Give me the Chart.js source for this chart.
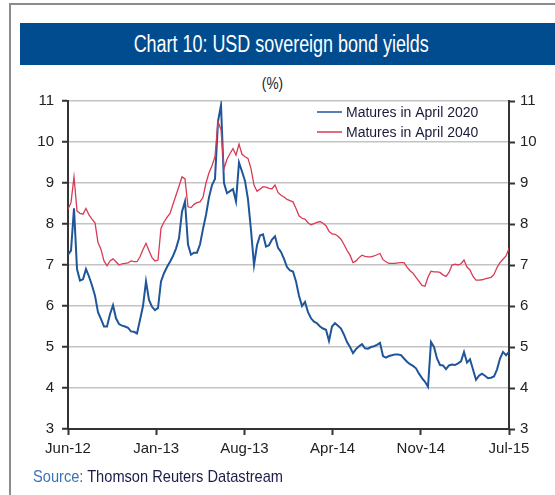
<!DOCTYPE html>
<html><head><meta charset="utf-8">
<script src="https://cdn.jsdelivr.net/npm/chart.js@4"></script>
<style>
html,body{margin:0;padding:0;background:#fff;width:555px;height:495px;overflow:hidden;position:relative;}
#frame{position:absolute;left:9px;top:3px;width:600px;height:600px;border-left:2px solid #8c8c8c;border-top:2px solid #8c8c8c;}
#band{position:absolute;left:20px;top:23px;width:535px;height:42px;background:#004C8F;color:#fff;font-family:'Liberation Sans Narrow','Liberation Sans',sans-serif;font-size:23px;line-height:42px;text-align:center;text-indent:-12px;}
#band span{display:inline-block;transform:scaleX(0.78);text-indent:0;}
#unit{position:absolute;left:0;width:545px;top:75px;text-align:center;font:16px 'Liberation Sans Narrow','Liberation Sans',sans-serif;color:#222;}
#unit span{display:inline-block;transform:scaleX(0.85);}
#src{position:absolute;left:33px;top:467px;font:17px 'Liberation Sans Narrow','Liberation Sans',sans-serif;color:#1c1c4a;white-space:nowrap;transform:scaleX(0.86);transform-origin:left center;}
#src span{color:#3b73b9}
#c{position:absolute;left:0;top:0}
</style></head>
<body>
<div id="frame"></div>
<div id="band"><span>Chart 10: USD sovereign bond yields</span></div>
<div id="unit"><span>(%)</span></div>
<canvas id="c" width="555" height="495"></canvas>
<div id="src"><span>Source:</span> Thomson Reuters Datastream</div>
<script>
const tickLabels = ['Jun-12','Jan-13','Aug-13','Apr-14','Nov-14','Jul-15'];
const seriesNames = ['Matures in April 2020','Matures in April 2040'];
const yMin = 3, yMax = 11;
const apr2020 = [
7.25,7.35,8.38,6.9,6.62,6.65,6.9,6.72,6.5,6.25,
5.85,5.68,5.5,5.5,5.8,6.02,5.7,5.56,5.52,5.5,
5.47,5.38,5.37,5.33,5.66,6.0,6.6,6.15,5.98,5.9,
5.95,6.6,6.8,6.95,7.08,7.22,7.4,7.65,8.3,8.55,
7.5,7.25,7.3,7.3,7.5,7.88,8.22,8.65,8.95,9.1,
10.5,10.9,9.0,8.75,8.8,8.85,8.55,9.5,9.28,9.05,
8.6,7.85,7.0,7.48,7.72,7.75,7.45,7.48,7.62,7.7,
7.42,7.32,7.15,6.95,6.87,6.84,6.6,6.25,6.0,6.1,
5.85,5.7,5.62,5.58,5.5,5.45,5.42,5.15,5.5,5.58,
5.52,5.45,5.3,5.12,5.0,4.85,4.95,5.02,5.07,4.97,
4.96,5.0,5.02,5.05,5.1,4.78,4.74,4.78,4.8,4.82,
4.82,4.8,4.72,4.64,4.58,4.54,4.48,4.35,4.24,4.15,
4.03,5.12,5.0,4.72,4.56,4.55,4.46,4.55,4.57,4.56,
4.6,4.65,4.88,4.62,4.7,4.45,4.2,4.3,4.35,4.3,
4.24,4.25,4.28,4.45,4.72,4.88,4.8,4.88];
const apr2040 = [
8.36,8.52,9.15,8.32,8.26,8.24,8.38,8.22,8.12,8.03,
7.55,7.38,7.1,6.98,7.1,7.15,7.08,7.0,7.03,7.04,
7.05,7.1,7.08,7.08,7.2,7.38,7.53,7.35,7.18,7.1,
7.12,7.9,8.05,8.16,8.26,8.48,8.7,8.92,9.15,9.1,
8.42,8.4,8.48,8.52,8.54,8.65,9.0,9.25,9.42,9.65,
10.5,10.3,9.35,9.58,9.72,9.84,9.68,9.95,9.7,9.64,
9.6,9.35,8.95,8.8,8.85,8.91,8.9,8.87,8.86,8.95,
8.77,8.7,8.66,8.6,8.57,8.54,8.38,8.2,8.14,8.12,
8.03,7.98,8.01,8.04,8.06,8.02,7.96,7.82,7.76,7.75,
7.7,7.63,7.5,7.36,7.24,7.06,7.1,7.18,7.24,7.21,
7.2,7.2,7.22,7.25,7.28,7.13,7.08,7.04,7.04,7.04,
7.05,7.06,7.06,6.95,6.86,6.8,6.7,6.6,6.5,6.48,
6.7,6.85,6.83,6.83,6.82,6.76,6.72,6.82,7.0,7.02,
7.0,7.03,7.12,6.95,6.88,6.72,6.63,6.63,6.64,6.66,
6.68,6.7,6.77,6.94,7.06,7.14,7.22,7.4];

const N = apr2020.length;
const toPts = arr => arr.map((v,i)=>({x:i,y:v}));
const FONT = "'Liberation Sans', Arial, sans-serif";

const legendPlugin = {
  id:'innerLegend',
  afterDraw(chart){
    const ctx = chart.ctx, a = chart.chartArea;
    ctx.save();
    ctx.font = '14px ' + FONT;
    ctx.textBaseline = 'middle';
    chart.data.datasets.forEach((ds,k)=>{
      const y = a.top + 11 + k*20;
      const x0 = a.right - 192;
      ctx.strokeStyle = ds.borderColor; ctx.lineWidth = 1.5;
      ctx.beginPath(); ctx.moveTo(x0,y); ctx.lineTo(x0+25,y); ctx.stroke();
      ctx.fillStyle = '#1a1a3a';
      ctx.fillText(ds.label, x0+29, y+1);
    });
    ctx.restore();
  }
};

new Chart(document.getElementById('c'), {
  type:'line',
  data:{datasets:[
    {label:seriesNames[0], data:toPts(apr2020), borderColor:'#1F5699', borderWidth:2, pointRadius:0, tension:0, order:1, yAxisID:'y'},
    {label:seriesNames[1], data:toPts(apr2040), borderColor:'#D93A55', borderWidth:1.3, pointRadius:0, tension:0, order:0, yAxisID:'y'}
  ]},
  options:{
    responsive:false, animation:false,
    layout:{padding:{top:101,left:0,right:0,bottom:0}},
    plugins:{legend:{display:false}, tooltip:{enabled:false}},
    scales:{
      x:{type:'linear', min:0, max:N-1,
        afterBuildTicks:s=>{ s.ticks = tickLabels.map((_,k)=>({value:k*(N-1)/(tickLabels.length-1)})); },
        afterFit:s=>{ s.height = 66; },
        ticks:{autoSkip:false, maxRotation:0, font:{family:FONT,size:15}, color:'#222', padding:5,
          callback:(v,i)=>tickLabels[i]},
        grid:{drawOnChartArea:false, drawTicks:true, tickLength:6, tickColor:'#333', tickWidth:2},
        border:{color:'#333', width:2}
      },
      y:{position:'left', min:yMin, max:yMax,
        afterFit:s=>{ s.width = 68; },
        ticks:{stepSize:1, font:{family:FONT,size:15}, color:'#222', padding:8},
        grid:{color:'#c4c4c4', lineWidth:1.5, tickLength:6, tickColor:'#333', tickWidth:2},
        border:{color:'#333', width:2}
      },
      y2:{position:'right', min:yMin, max:yMax,
        afterFit:s=>{ s.width = 46; },
        ticks:{stepSize:1, font:{family:FONT,size:15}, color:'#222', padding:5},
        grid:{drawOnChartArea:false, tickLength:6, tickColor:'#333', tickWidth:2},
        border:{color:'#333', width:2}
      }
    }
  },
  plugins:[legendPlugin]
});
</script>
</body></html>
